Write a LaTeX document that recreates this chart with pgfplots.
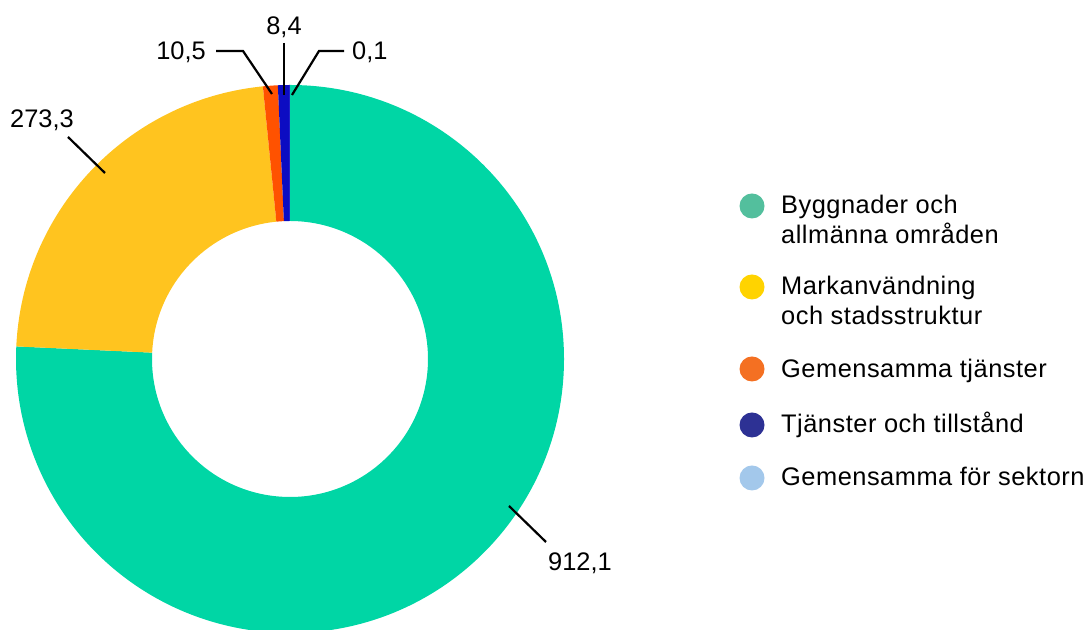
\documentclass[border=0pt]{standalone}
\usepackage{pgfplots}
\usepackage{pgfplotstable}
\pgfplotsset{compat=1.18}
\usepackage{fontspec}
\setmainfont{Liberation Sans}
\newfontfamily\legfont{Liberation Sans}[LetterSpace=2]
\definecolor{sl0}{HTML}{00D6A5}
\definecolor{sl1}{HTML}{FFC41F}
\definecolor{sl2}{HTML}{FF5200}
\definecolor{sl3}{HTML}{0C0CC2}
\definecolor{sl4}{HTML}{A3C8EB}
\definecolor{lg0}{HTML}{53BF9D}
\definecolor{lg1}{HTML}{FFD300}
\definecolor{lg2}{HTML}{F47022}
\definecolor{lg3}{HTML}{2D3194}
\definecolor{lg4}{HTML}{A3C8EB}
\pgfplotstableread{
value
912.1
273.3
10.5
8.4
0.1
}\piedata
\begin{document}
\begin{tikzpicture}
\fontsize{25.5}{30}\selectfont
% compute total and angles
\def\total{0}
\pgfplotsforeachungrouped \i in {0,...,4}{%
  \pgfplotstablegetelem{\i}{value}\of\piedata
  \pgfmathsetmacro\total{\total+\pgfplotsretval}%
}
\def\cur{90}
\pgfplotsforeachungrouped \i in {0,...,4}{%
  \pgfplotstablegetelem{\i}{value}\of\piedata
  \pgfmathsetmacro\nxt{\cur-(\pgfplotsretval/\total)*360}%
  \expandafter\xdef\csname sA\i\endcsname{\cur}%
  \expandafter\xdef\csname sB\i\endcsname{\nxt}%
  \global\let\cur\nxt
}
\begin{axis}[width=1085bp, height=630bp, scale only axis,
  xmin=0, xmax=1085, ymin=0, ymax=630, hide axis, clip=true]
\coordinate (sw) at (rel axis cs:0,0);
\coordinate (ne) at (rel axis cs:1,1);
\pgfplotsinvokeforeach{0,...,4}{%
  \fill[sl#1] (axis cs:{290+274*cos(\csname sA#1\endcsname)},{271+274*sin(\csname sA#1\endcsname)})
    arc[start angle=\csname sA#1\endcsname, end angle=\csname sB#1\endcsname, radius=274bp]
    -- (axis cs:{290+138*cos(\csname sB#1\endcsname)},{271+138*sin(\csname sB#1\endcsname)})
    arc[start angle=\csname sB#1\endcsname, end angle=\csname sA#1\endcsname, radius=138bp]
    -- cycle;
}
% leader lines
\draw[line width=2.2bp] (axis cs:216,579) -- (axis cs:243,579) -- (axis cs:272,536);
\draw[line width=2.2bp] (axis cs:284,587) -- (axis cs:284,535);
\draw[line width=2.2bp] (axis cs:292,535) -- (axis cs:319,579) -- (axis cs:344,579);
\draw[line width=2.2bp] (axis cs:68,493) -- (axis cs:105,457);
\draw[line width=2.2bp] (axis cs:509,124) -- (axis cs:546,88);
% value labels
\node[anchor=base east, inner sep=0pt] at (axis cs:206,570) {10,5};
\node[anchor=base, inner sep=0pt] at (axis cs:284,595) {8,4};
\node[anchor=base west, inner sep=0pt] at (axis cs:352,570) {0,1};
\node[anchor=base west, inner sep=0pt] at (axis cs:10,502) {273,3};
\node[anchor=base west, inner sep=0pt] at (axis cs:548,59) {912,1};
% legend
\fill[lg0] (axis cs:752,424) circle[radius=12.5bp];
\fill[lg1] (axis cs:752,343) circle[radius=12.5bp];
\fill[lg2] (axis cs:752,261) circle[radius=12.5bp];
\fill[lg3] (axis cs:752,205) circle[radius=12.5bp];
\fill[lg4] (axis cs:752,152) circle[radius=12.5bp];
\begin{scope}[every node/.style={anchor=base west, inner sep=0pt, font=\legfont}]
\node at (axis cs:781,416) {Byggnader och};
\node at (axis cs:781,386) {allmänna områden};
\node at (axis cs:781,335) {Markanvändning};
\node at (axis cs:781,305) {och stadsstruktur};
\node at (axis cs:781,252) {Gemensamma tjänster};
\node at (axis cs:781,197) {Tjänster och tillstånd};
\node at (axis cs:781,144) {Gemensamma för sektorn};
\end{scope}
\end{axis}
\pgfresetboundingbox
\path (sw) rectangle (ne);
\end{tikzpicture}
\end{document}
